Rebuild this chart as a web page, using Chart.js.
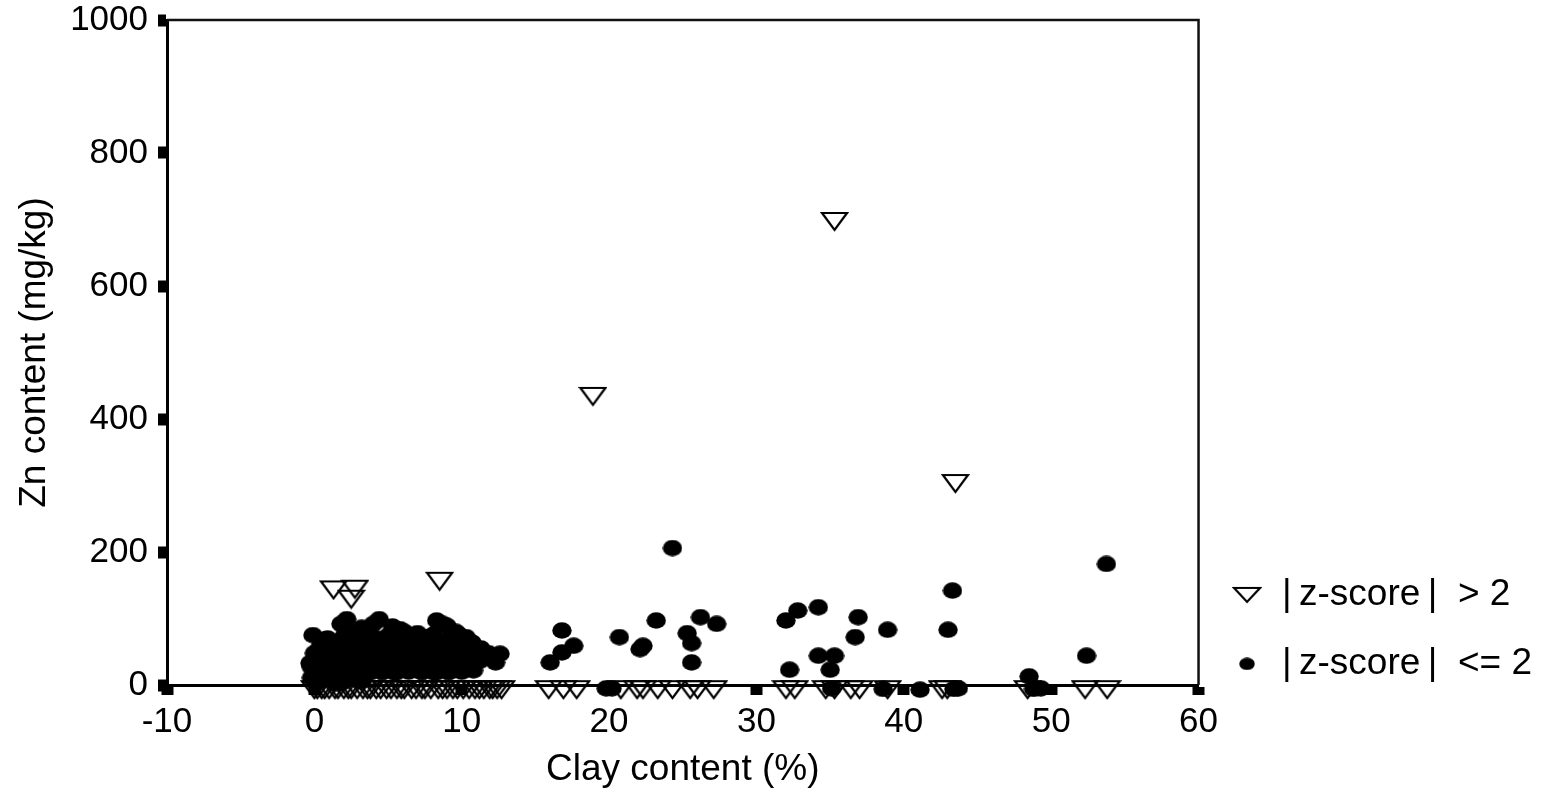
<!DOCTYPE html>
<html>
<head>
<meta charset="utf-8">
<script src="https://cdn.jsdelivr.net/npm/chart.js@4.4.0/dist/chart.umd.min.js"></script>
<style>
body { margin: 0; background: #fff; }
</style>
</head>
<body>
<canvas id="zincChart" width="1548" height="798"></canvas>
<script>
var xTicks = [-10, 0, 10, 20, 30, 40, 50, 60];
var yTicks = [0, 200, 400, 600, 800, 1000];
var seriesNames = ["|\u2009z-score\u2009|  > 2", "|\u2009z-score\u2009|  <= 2"];

// |z-score| > 2 (open triangles)
var highClay = [1.3, 2.75, 2.5, 8.5, 18.9, 35.3, 43.5,
    0.0, 0.2, 0.5, 0.7, 1.0, 1.4, 1.6, 2.0, 2.3, 2.5, 2.9, 3.3, 3.6, 3.8, 4.2, 4.5, 4.9, 5.2, 5.6, 5.9,
    6.1, 6.6, 6.9, 7.3, 7.5, 7.9, 8.4, 8.7, 9.0, 9.4, 9.7, 10.1, 10.5, 10.9, 11.2, 11.5, 11.9, 12.1, 12.4, 12.7,
    15.9, 16.9, 17.8, 20.8, 21.9, 22.3, 23.3, 24.3, 25.5, 26.0, 27.1,
    32.0, 32.6, 34.7, 35.3, 36.4, 37.0, 38.9, 42.6, 42.95, 48.4, 52.3, 53.8];
var highZn = [143, 144, 129, 156, 434, 697, 303,
    -7, -7, -7, -7, -7, -7, -7, -7, -7, -7, -7, -7, -7, -7, -7, -7, -7, -7, -7, -7,
    -7, -7, -7, -7, -7, -7, -7, -7, -7, -7, -7, -7, -7, -7, -7, -7, -7, -7, -7, -7,
    -7, -7, -7, -7, -7, -7, -7, -7, -7, -7, -7,
    -7, -7, -7, -7, -7, -7, -7, -7, -7, -7, -7, -7];

// |z-score| <= 2 (filled dots)
var lowClay = [-0.1, 0.9, 2.2, 2.1, 3.2, 4.4, 5.3, 6.1, 8.3, 9.0, 11.3, 12.6, 12.3, -0.2, 6.5, 2.3, 3.6, 7.5, 9.8, 10.7, -0.3, -0.2, 0.0, 0.4,
    0.3, 1.1, 1.9, 2.8, 3.7, 4.6, 5.5, 6.4, 7.3, 8.2, 9.1, 10.0, 10.8,
    0.5, 1.3, 2.2, 3.2, 4.1, 5.0, 5.9, 6.9, 7.7, 8.6, 9.5, 10.4, 11.2,
    0.7, 1.6, 2.5, 3.5, 4.4, 5.3, 6.3, 7.1, 8.0, 8.9, 9.8, 10.6,
    1.1, 2.0, 2.9, 3.9, 4.8, 5.7, 6.6, 7.4, 8.5, 9.4, 10.2,
    1.5, 2.6, 3.6, 4.7, 5.6, 7.0, 8.1, 8.8, 9.6,
    0.6, 1.5, 2.4, 3.2,
    0.9, 1.8, 2.7, 3.6, 4.5, 5.4, 6.4, 7.3, 8.2, 9.1, 10.0, 10.9,
    0.3, 1.2, 2.3, 3.1, 4.1, 5.0, 6.0, 6.8, 7.8, 8.7, 9.6, 10.5, 11.5,
    0.7, 1.9, 2.9, 4.1, 5.0, 6.2, 7.2, 8.1, 9.2, 10.0,
    1.8, 4.0, 5.8, 8.7, 7.0, 9.6, 10.3, 11.8, 12.0,
    24.3, 16.8, 16.0, 16.8, 17.6, 20.7, 22.1, 22.3, 23.2, 25.3, 25.6, 25.6, 26.2, 27.3,
    32.0, 32.8, 34.2, 32.25, 34.2, 35.3, 35.0, 36.9, 36.7, 38.9, 43.3, 43.0, 48.5, 52.4, 53.75,
    19.8, 20.2, 35.1, 38.6, 41.1, 43.4, 43.7, 48.8, 49.3];
var lowZn = [75, 70, 99, 84, 86, 99, 88, 80, 97, 89, 55, 47, 34, 27, 65, 75, 74, 72, 76, 64, 33, 11, 48, 58,
    5, 9, 4, 8, 18, 19, 18, 20, 19, 18, 19, 20, 22,
    20, 24, 19, 27, 25, 30, 26, 29, 24, 28, 27, 30, 36,
    38, 40, 35, 42, 39, 44, 41, 38, 45, 42, 40, 46,
    52, 55, 50, 57, 53, 58, 52, 56, 60, 55, 51,
    64, 62, 66, 63, 68, 62, 70, 66, 61,
    14, 3, 12, 6,
    31, 33, 29, 34, 32, 35, 33, 31, 36, 34, 33, 38,
    44, 46, 43, 48, 46, 49, 47, 45, 50, 48, 46, 44, 42,
    68, 70, 72, 71, 74, 70, 68, 76, 70, 66,
    92, 92, 84, 92, 78, 80, 72, 48, 40,
    206, 82, 34, 49, 59, 72, 54, 59, 97, 78, 63, 34, 102, 92,
    97, 112, 117, 23, 44, 44, 23, 102, 72, 83, 142, 83, 13, 44, 182,
    -5, -5, -5, -6, -7, -6, -5, -6, -5];

function triangleMark(w, h) {
    var c = document.createElement("canvas");
    c.width = w + 4;
    c.height = h + 4;
    var g = c.getContext("2d");
    g.strokeStyle = "#000";
    g.lineWidth = 2.2;
    g.beginPath();
    g.moveTo(2, 2);
    g.lineTo(w + 2, 2);
    g.lineTo(w / 2 + 2, h + 2);
    g.closePath();
    g.stroke();
    return c;
}

function dotMark(w, h) {
    var c = document.createElement("canvas");
    c.width = w;
    c.height = h;
    var g = c.getContext("2d");
    g.fillStyle = "#000";
    g.beginPath();
    g.ellipse(w / 2, h / 2, w / 2 - 0.3, h / 2 - 0.3, 0, 0, 2 * Math.PI);
    g.fill();
    return c;
}

var triPlot = triangleMark(25, 17);
var dotPlot = dotMark(20, 17);
var triLegend = triangleMark(26, 14);
var dotLegend = dotMark(16, 13);

function toPoints(xs, ys) {
    return xs.map(function (x, i) { return {x: x, y: ys[i]}; });
}

// top and right edge of the frame
var frame = {
    id: "frame",
    beforeDatasetsDraw: function (chart) {
        var a = chart.chartArea;
        var ctx = chart.ctx;
        ctx.save();
        ctx.strokeStyle = "#111";
        ctx.lineWidth = 2.5;
        ctx.beginPath();
        ctx.moveTo(a.left, a.top);
        ctx.lineTo(a.right, a.top);
        ctx.lineTo(a.right, a.bottom);
        ctx.stroke();
        ctx.restore();
    }
};

var tickFont = {family: "'Liberation Sans', Arial, sans-serif", size: 35};
var titleFont = {family: "'Liberation Sans', Arial, sans-serif", size: 37};

new Chart("zincChart", {
    type: "scatter",
    data: {
        datasets: [{
            label: seriesNames[0],
            data: toPoints(highClay, highZn),
            pointStyle: triPlot,
            pointRadius: 10,
            pointHoverRadius: 10,
            clip: false
        }, {
            label: seriesNames[1],
            data: toPoints(lowClay, lowZn),
            pointStyle: dotPlot,
            pointRadius: 10,
            pointHoverRadius: 10,
            clip: false
        }]
    },
    options: {
        responsive: false,
        animation: false,
        layout: {padding: {top: 20, right: 6, bottom: 0, left: 0}},
        scales: {
            x: {
                type: "linear",
                min: -10,
                max: 60,
                afterBuildTicks: function (axis) {
                    axis.ticks = xTicks.map(function (v) { return {value: v}; });
                },
                afterFit: function (scale) { scale.height = 113; },
                border: {color: "#000", width: 3},
                grid: {drawOnChartArea: false, tickLength: 10, tickWidth: 12, tickColor: "#000"},
                ticks: {color: "#000", font: tickFont, padding: 6, maxRotation: 0,
                    callback: function (v) { return String(v); }},
                title: {display: true, text: "Clay content (%)", color: "#000", font: titleFont, padding: {top: 0, bottom: 6}}
            },
            y: {
                type: "linear",
                min: 0,
                max: 1000,
                afterBuildTicks: function (axis) {
                    axis.ticks = yTicks.map(function (v) { return {value: v}; });
                },
                afterFit: function (scale) {
                    scale.width = 167;
                    scale.paddingTop = 0;
                    scale.paddingBottom = 0;
                },
                border: {color: "#000", width: 3},
                grid: {drawOnChartArea: false, tickLength: 9, tickWidth: 12, tickColor: "#000"},
                ticks: {color: "#000", font: tickFont, padding: 10,
                    callback: function (v) { return String(v); }},
                title: {display: true, text: "Zn content (mg/kg)", color: "#000", font: titleFont, padding: {top: 13, bottom: 0}}
            }
        },
        plugins: {
            tooltip: {enabled: false},
            legend: {
                position: "right",
                align: "start",
                title: {display: true, text: " ", padding: {top: 510, bottom: 0}},
                labels: {
                    usePointStyle: true,
                    pointStyleWidth: 33,
                    color: "#000",
                    font: titleFont,
                    padding: 32,
                    generateLabels: function (chart) {
                        var items = Chart.defaults.plugins.legend.labels.generateLabels(chart);
                        items[0].pointStyle = triLegend;
                        items[1].pointStyle = dotLegend;
                        return items;
                    }
                }
            }
        }
    },
    plugins: [frame]
});
</script>
</body>
</html>
